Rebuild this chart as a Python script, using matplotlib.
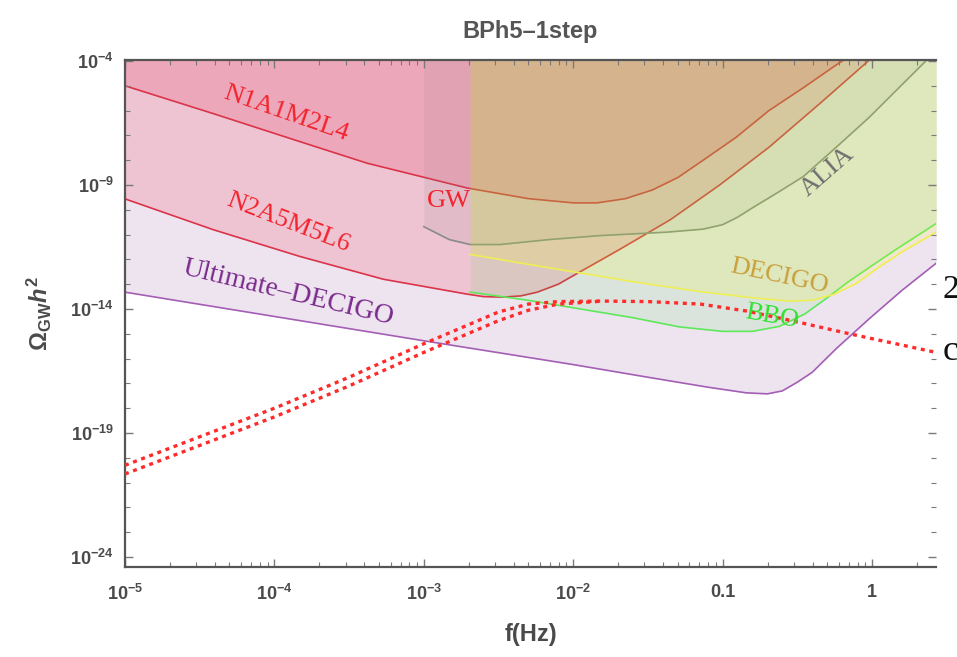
import numpy as np
import matplotlib
matplotlib.use('Agg')
import matplotlib.pyplot as plt
from matplotlib import ticker

plt.rcParams.update({
    'font.family': 'Liberation Sans',
    'mathtext.fontset': 'custom',
    'mathtext.rm': 'Liberation Sans:bold',
    'mathtext.it': 'Liberation Sans:italic:bold',
    'mathtext.bf': 'Liberation Sans:bold',
})

# all curves as log10(f / Hz), log10(Omega_GW h^2)
n1_logf = [-5.0, -4.41, -3.83, -3.38, -2.71, -2.3, -2.0, -1.84, -1.65, -1.47, -1.3, -1.13,
           -0.91, -0.69, -0.46, -0.22, -0.1]
n1_logo = [-5.0, -6.12, -7.25, -8.12, -9.12, -9.55, -9.72, -9.72, -9.55, -9.2, -8.7, -8.0,
           -7.08, -6.0, -5.08, -4.08, -3.6]

n2_logf = [-5.0, -4.41, -3.83, -3.27, -2.71, -2.6, -2.47, -2.35, -2.24, -2.1, -1.96, -1.69,
           -1.35, -1.02, -0.69, -0.35, -0.04, 0.05]
n2_logo = [-9.56, -10.8, -11.88, -12.8, -13.4, -13.5, -13.52, -13.47, -13.32, -13.0, -12.52,
           -11.6, -10.4, -9.0, -7.48, -5.72, -4.08, -3.6]

alia_logf = [-3.0, -2.83, -2.69, -2.49, -2.16, -1.82, -1.37, -1.13, -1.0, -0.9, -0.8, -0.63,
             -0.46, -0.24, -0.02, 0.34, 0.43]
alia_logo = [-10.68, -11.2, -11.4, -11.4, -11.2, -11.04, -10.9, -10.78, -10.6, -10.3, -9.92,
             -9.3, -8.66, -7.48, -6.28, -4.12, -3.6]

decigo_logf = [-2.69, -2.2, -1.6, -1.15, -0.8, -0.55, -0.4, -0.25, -0.1, 0.05, 0.2, 0.43]
decigo_logo = [-11.8, -12.3, -12.9, -13.3, -13.55, -13.68, -13.65, -13.4, -12.95, -12.3,
               -11.7, -10.9]

bbo_logf = [-2.69, -2.3, -2.0, -1.6, -1.29, -1.0, -0.8, -0.62, -0.45, -0.3, -0.17, 0.0, 0.16,
            0.43]
bbo_logo = [-13.32, -13.65, -13.95, -14.35, -14.72, -14.9, -14.9, -14.7, -14.2, -13.55,
            -12.95, -12.25, -11.6, -10.55]

udecigo_logf = [-5.0, -4.0, -3.0, -2.0, -1.5, -1.1, -0.84, -0.7, -0.6, -0.5, -0.4, -0.24,
                -0.02, 0.2, 0.43]
udecigo_logo = [-13.32, -14.3, -15.28, -16.24, -16.75, -17.15, -17.38, -17.42, -17.3, -16.95,
                -16.55, -15.6, -14.4, -13.25, -12.15]

# BPh5-1step spectrum, two nearby parameter choices
sig_a_logf = [-5.0, -4.5, -4.0, -3.5, -3.0, -2.5, -2.3, -2.1, -1.8, -1.5, -1.15, -0.84, -0.5,
              -0.15, 0.43]
sig_a_logo = [-20.3, -19.15, -18.0, -16.75, -15.4, -14.12, -13.8, -13.7, -13.68, -13.7,
              -13.8, -14.08, -14.52, -15.0, -15.75]
sig_b_logf = [-5.0, -4.5, -4.0, -3.5, -3.0, -2.5, -2.3, -2.1, -1.8]
sig_b_logo = [-20.65, -19.5, -18.35, -17.1, -15.75, -14.47, -14.05, -13.8, -13.68]

x_major = [1e-5, 1e-4, 1e-3, 1e-2, 0.1, 1]
x_labels = [r'$10^{-5}$', r'$10^{-4}$', r'$10^{-3}$', r'$10^{-2}$', '0.1', '1']
y_major = [1e-24, 1e-19, 1e-14, 1e-9, 1e-4]
y_labels = [r'$10^{-24}$', r'$10^{-19}$', r'$10^{-14}$', r'$10^{-9}$', r'$10^{-4}$']


def pts(lf, lo):
    return 10.0 ** np.asarray(lf), 10.0 ** np.asarray(lo)


fig = plt.figure(figsize=(9.57, 6.57), dpi=100)
ax = fig.add_axes([0.1306, 0.137, 0.8474, 0.7717])

ceiling = 1e-3
# each curve is filled upward and stroked before the next one goes on top
# (f, omega, line colour, fill colour, fill alpha)
sensitivities = [
    (n2_logf, n2_logo, '#e8323c', (1.00, 0.05, 0.09), 0.15),
    (n1_logf, n1_logo, '#e8323c', (0.95, 0.00, 0.13), 0.15),
    (udecigo_logf, udecigo_logo, '#a45fb5', (0.55, 0.25, 0.60), 0.14),
    (alia_logf, alia_logo, '#8a8a8a', (0.50, 0.50, 0.50), 0.11),
    (bbo_logf, bbo_logo, '#5ee85a', (0.20, 0.90, 0.20), 0.10),
    (decigo_logf, decigo_logo, '#eeee55', (1.00, 1.00, 0.00), 0.14),
]
for lf, lo, lc, fc, a in sensitivities:
    f, om = pts(lf, lo)
    ax.fill_between(f, om, ceiling, color=fc, alpha=a, lw=0, zorder=1)
    ax.plot(f, om, color=lc, lw=1.2, zorder=1)

for lf, lo in [(sig_a_logf, sig_a_logo), (sig_b_logf, sig_b_logo)]:
    f, om = pts(lf, lo)
    ax.plot(f, om, color='#ff2a2a', lw=2.4, dashes=(1.2, 1.4), zorder=3)

ax.set_xscale('log')
ax.set_yscale('log')
ax.set_xlim(1e-5, 10 ** 0.428)
ax.set_ylim(10 ** -24.4, 10 ** -3.96)

ax.xaxis.set_major_locator(ticker.FixedLocator(x_major))
ax.xaxis.set_major_formatter(ticker.FixedFormatter(x_labels))
ax.xaxis.set_minor_locator(ticker.LogLocator(base=10, subs=np.arange(2, 10), numticks=20))
ax.xaxis.set_minor_formatter(ticker.NullFormatter())
ax.yaxis.set_major_locator(ticker.FixedLocator(y_major))
ax.yaxis.set_major_formatter(ticker.FixedFormatter(y_labels))
ax.yaxis.set_minor_locator(ticker.FixedLocator([10.0 ** k for k in range(-24, -3)]))
ax.yaxis.set_minor_formatter(ticker.NullFormatter())

ax.tick_params(which='both', direction='in', top=True, right=True, color='#7a7a7a',
               labelcolor='#4a4a4a', labelsize=13)
ax.tick_params(which='major', length=6, width=1.0)
ax.tick_params(which='minor', length=3.5, width=0.8)
ax.tick_params(axis='x', which='major', pad=12)
ax.tick_params(axis='y', which='major', pad=8)
for lab in ax.get_xticklabels() + ax.get_yticklabels():
    lab.set_fontweight('bold')
for side in ['left', 'bottom', 'top']:
    ax.spines[side].set_color('#555555')
    ax.spines[side].set_linewidth(1.6)
ax.spines['right'].set_visible(False)

ax.set_title('BPh5–1step', fontsize=17, fontweight='bold', color='#555555', pad=16)
ax.set_xlabel('f(Hz)', fontsize=17, fontweight='bold', color='#4a4a4a', labelpad=14)
ax.set_ylabel(r'$\Omega_{\mathrm{GW}}h^{2}$', fontsize=17, color='#4a4a4a', labelpad=12)

serif = 'Liberation Serif'
labels = [
    ('N1A1M2L4', -3.92, -6.12, -19, '#f2242e', 19),
    ('N2A5M5L6', -3.91, -10.52, -21, '#f2242e', 19),
    ('Ultimate–DECIGO', -3.91, -13.36, -13.5, '#7a2a8c', 20),
    ('GW', -2.83, -9.64, 0, '#f2242e', 19),
    ('ALIA', -0.30, -8.48, 41, '#6e6e6e', 19),
    ('DECIGO', -0.62, -12.7, -12, '#c9a03c', 19),
    ('BBO', -0.67, -14.32, -10, '#2ee02e', 19),
]
for txt, lf, lo, rot, col, size in labels:
    ax.text(10 ** lf, 10 ** lo, txt, family=serif, fontsize=size, color=col, rotation=rot,
            ha='center', va='center', rotation_mode='anchor', zorder=4)

# legend entries that run off the right edge
fig.text(943 / 957, 1 - 290 / 657, '2', family=serif, fontsize=24, color='#111111',
         ha='left', va='center')
fig.text(943 / 957, 1 - 352 / 657, 'c', family=serif, fontsize=26, color='#111111',
         ha='left', va='center')

fig.savefig('out.png', dpi=100)
